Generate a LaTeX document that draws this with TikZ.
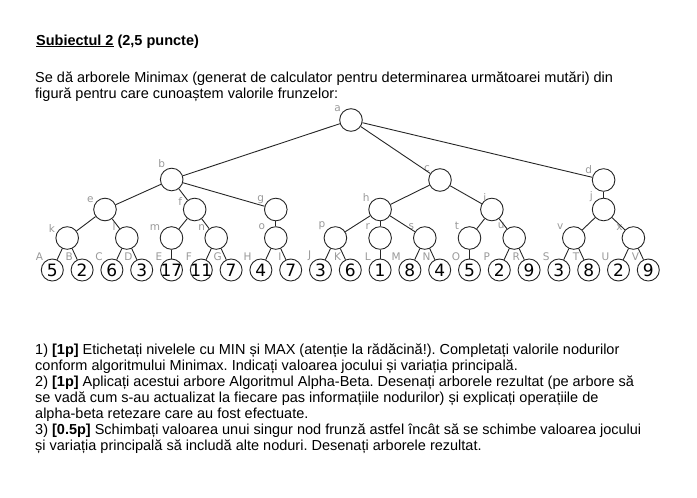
\documentclass[tikz,border=0pt]{standalone}
\usepackage{fontspec}
\usepackage{xcolor}
\setmainfont{Liberation Sans}
\newfontfamily\treefont{DejaVu Sans}
\newcommand{\leafval}[1]{\makebox[0pt]{#1}}
\frenchspacing

\tikzset{
  inner/.style={circle, draw=black!85, line width=0.9pt, minimum size=22.6pt, inner sep=0pt},
  leaf/.style={circle, draw=black!85, line width=0.9pt, minimum size=22pt, inner sep=0pt,
    font=\treefont\fontsize{17}{17}\selectfont},
  lbl/.style={text=black!40, font=\treefont\fontsize{10.5}{11}\selectfont, inner sep=1pt},
  edge/.style={draw=black!85, line width=0.9pt},
  txt/.style={anchor=base west, inner sep=0pt, font=\fontsize{14.5}{16}\selectfont}
}

\begin{document}
\begin{tikzpicture}[x=1pt, y=-1pt]
        \useasboundingbox (0,0) rectangle (697,498);

        % text above the tree
        \node[txt] (title) at (36,45) {\textbf{\underline{Subiectul 2} (2,5 puncte)}};
        \node[txt] (intro1) at (35,82) {Se dă arborele Minimax (generat de calculator pentru determinarea următoarei mutări) din};
        \node[txt] (intro2) at (35,98) {figură pentru care cunoaștem valorile frunzelor:};

        % root and first level
        \node[inner, label={[lbl]140:a}] (a) at (351,120) {};
        \node[inner, label={[lbl]118:b}] (b) at (171.7,179.5) {};
        \node[inner, label={[lbl]140:c}] (c) at (440,180) {};
        \node[inner, label={[lbl]152:d}] (d) at (603.6,180) {};

        % second level
        \node[inner, label={[lbl]150:e}] (e) at (105,209.5) {};
        \node[inner, label={[lbl]168:f}] (f) at (194.7,209.5) {};
        \node[inner, label={[lbl]155:g}] (g) at (275.8,209.5) {};
        \node[inner, label={[lbl]143:h}] (h) at (380.1,209.5) {};
        \node[inner, label={[lbl, yshift=-4pt]112:i}] (i) at (491.9,209.5) {};
        \node[inner, label={[lbl]145:j}] (j) at (603.6,209.5) {};

        % third level
        \node[inner, label={[lbl]160:k}] (k) at (67.2,238) {};
        \node[inner, label={[lbl]148:l}] (l) at (126.8,238) {};
        \node[inner, label={[lbl]150:m}] (m) at (171.5,238) {};
        \node[inner, label={[lbl]148:n}] (n) at (216.2,238) {};
        \node[inner, label={[lbl]145:o}] (o) at (275.8,238) {};
        \node[inner, label={[lbl]140:p}] (p) at (335.4,238) {};
        \node[inner, label={[lbl]140:r}] (r) at (380.1,238) {};
        \node[inner, label={[lbl]144:s}] (s) at (424.8,238) {};
        \node[inner, label={[lbl]142:t}] (t) at (469.5,238) {};
        \node[inner, label={[lbl]136:u}] (u) at (514.2,238) {};
        \node[inner, label={[lbl]142:v}] (v) at (573.8,238) {};
        \node[inner, label={[lbl]145:x}] (x) at (633.4,238) {};

        % leaves
        \node[leaf, label={[lbl]135:A}] (A) at (52.3,270) {\leafval{5}};
        \node[leaf, label={[lbl]135:B}] (B) at (82.1,270) {\leafval{2}};
        \node[leaf, label={[lbl]135:C}] (C) at (111.9,270) {\leafval{6}};
        \node[leaf, label={[lbl]135:D}] (D) at (141.7,270) {\leafval{3}};
        \node[leaf, label={[lbl]135:E}] (E) at (171.5,270) {\leafval{17}};
        \node[leaf, label={[lbl]135:F}] (F) at (201.3,270) {\leafval{11}};
        \node[leaf, label={[lbl]135:G}] (G) at (231.1,270) {\leafval{7}};
        \node[leaf, label={[lbl]135:H}] (H) at (260.9,270) {\leafval{4}};
        \node[leaf, label={[lbl]135:I}] (I) at (290.7,270) {\leafval{7}};
        \node[leaf, label={[lbl]135:J}] (J) at (320.5,270) {\leafval{3}};
        \node[leaf, label={[lbl]135:K}] (K) at (350.3,270) {\leafval{6}};
        \node[leaf, label={[lbl]135:L}] (L) at (380.1,270) {\leafval{1}};
        \node[leaf, label={[lbl]135:M}] (M) at (409.9,270) {\leafval{8}};
        \node[leaf, label={[lbl]135:N}] (N) at (439.7,270) {\leafval{4}};
        \node[leaf, label={[lbl]135:O}] (O) at (469.5,270) {\leafval{5}};
        \node[leaf, label={[lbl]135:P}] (P) at (499.3,270) {\leafval{2}};
        \node[leaf, label={[lbl]135:R}] (R) at (529.1,270) {\leafval{9}};
        \node[leaf, label={[lbl]135:S}] (S) at (558.9,270) {\leafval{3}};
        \node[leaf, label={[lbl]135:T}] (T) at (588.7,270) {\leafval{8}};
        \node[leaf, label={[lbl]135:U}] (U) at (618.5,270) {\leafval{2}};
        \node[leaf, label={[lbl]135:V}] (V) at (648.3,270) {\leafval{9}};

        % edges
        \draw[edge] (a) -- (b);  \draw[edge] (a) -- (c);  \draw[edge] (a) -- (d);
        \draw[edge] (b) -- (e);  \draw[edge] (b) -- (f);  \draw[edge] (b) -- (g);
        \draw[edge] (c) -- (h);  \draw[edge] (c) -- (i);  \draw[edge] (d) -- (j);
        \draw[edge] (e) -- (k);  \draw[edge] (e) -- (l);
        \draw[edge] (f) -- (m);  \draw[edge] (f) -- (n);  \draw[edge] (g) -- (o);
        \draw[edge] (h) -- (p);  \draw[edge] (h) -- (r);  \draw[edge] (h) -- (s);
        \draw[edge] (i) -- (t);  \draw[edge] (i) -- (u);
        \draw[edge] (j) -- (v);  \draw[edge] (j) -- (x);
        \draw[edge] (k) -- (A);  \draw[edge] (k) -- (B);
        \draw[edge] (l) -- (C);  \draw[edge] (l) -- (D);
        \draw[edge] (m) -- (E);
        \draw[edge] (n) -- (F);  \draw[edge] (n) -- (G);
        \draw[edge] (o) -- (H);  \draw[edge] (o) -- (I);
        \draw[edge] (p) -- (J);  \draw[edge] (p) -- (K);
        \draw[edge] (r) -- (L);
        \draw[edge] (s) -- (M);  \draw[edge] (s) -- (N);
        \draw[edge] (t) -- (O);
        \draw[edge] (u) -- (P);  \draw[edge] (u) -- (R);
        \draw[edge] (v) -- (S);  \draw[edge] (v) -- (T);
        \draw[edge] (x) -- (U);  \draw[edge] (x) -- (V);

        % questions
        \node[txt] (q1a) at (35,354) {1) \textbf{[1p]} Etichetați nivelele cu MIN și MAX (atenție la rădăcină!). Completați valorile nodurilor};
        \node[txt] (q1b) at (35,370.1) {conform algoritmului Minimax. Indicați valoarea jocului și variația principală.};
        \node[txt] (q2a) at (35,386.2) {2) \textbf{[1p]} Aplicați acestui arbore Algoritmul Alpha-Beta. Desenați arborele rezultat (pe arbore să};
        \node[txt] (q2b) at (35,402.3) {se vadă cum s-au actualizat la fiecare pas informațiile nodurilor) și explicați operațiile de};
        \node[txt] (q2c) at (35,418.4) {alpha-beta retezare care au fost efectuate.};
        \node[txt] (q3a) at (35,434.5) {3) \textbf{[0.5p]} Schimbați valoarea unui singur nod frunză astfel încât să se schimbe valoarea jocului};
        \node[txt] (q3b) at (35,450.6) {și variația principală să includă alte noduri. Desenați arborele rezultat.};
\end{tikzpicture}
\end{document}
